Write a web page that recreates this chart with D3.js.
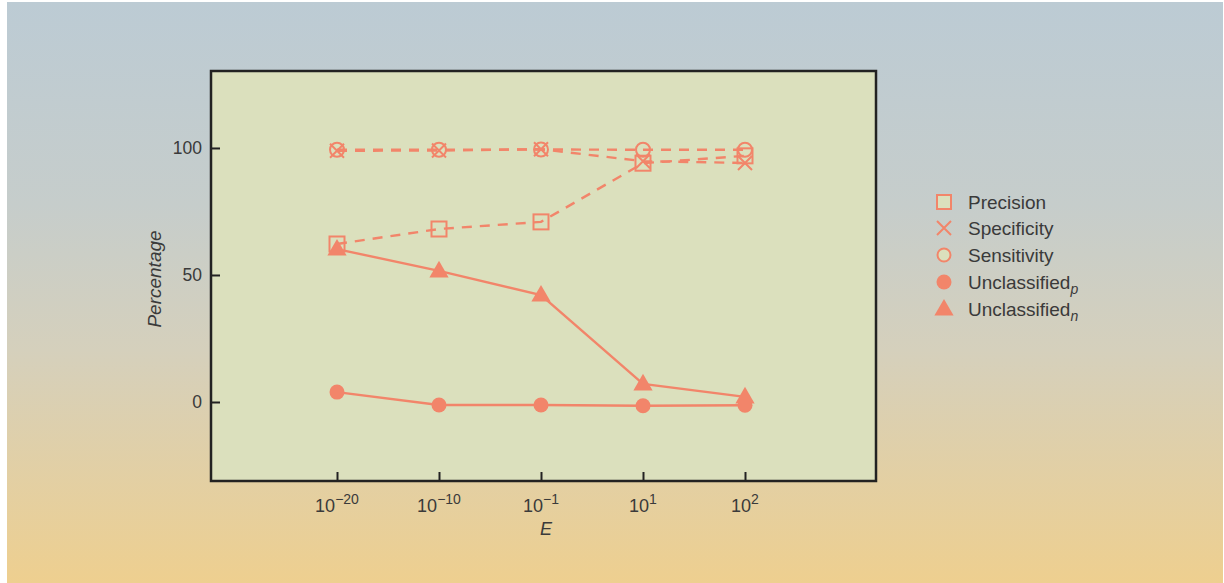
<!DOCTYPE html>
<html><head><meta charset="utf-8">
<script src="https://cdn.jsdelivr.net/npm/d3@7/dist/d3.min.js"></script>
<style>body{margin:0;background:#fff}svg{display:block}</style>
</head><body>
<svg id="c" width="1224" height="583"></svg>
<script>
const categories = ["1e-20","1e-10","1e-1","1e1","1e2"];
const xExponents = ["\u221220","\u221210","\u22121","1","2"];
const precision   = [62.2, 68.1, 70.9, 94.0, 96.9];
const specificity = [98.9, 99.0, 99.5, 94.8, 94.1];
const sensitivity = [99.3, 99.3, 99.4, 99.3, 99.3];
const unclassP    = [3.9, -1.2, -1.2, -1.5, -1.3];
const unclassN    = [60.2, 51.6, 42.1, 7.1, 2.0];
const yTicks = [0, 50, 100];
const seriesNames = ["Precision","Specificity","Sensitivity","Unclassified","Unclassified"];
const seriesSubs = ["","","","p","n"];

const C = "#f2856a", BG = "#dbe0bd", TXT = "#3a3a3a";
const svg = d3.select("#c");
const defs = svg.append("defs");
const g = defs.append("linearGradient").attr("id","bg").attr("x1",0).attr("y1",0).attr("x2",0).attr("y2",1);
[[0,"#bccbd4"],[0.35,"#c6cdcb"],[0.6,"#d5d0bc"],[1,"#eecf8f"]].forEach(s=>g.append("stop").attr("offset",s[0]).attr("stop-color",s[1]));
svg.append("rect").attr("x",7).attr("y",2).attr("width",1216).attr("height",581).attr("fill","url(#bg)");

const L=211, R=876, T=71, B=481;
const x = d3.scalePoint().domain(categories).range([337,745]);
const y = d3.scaleLinear().domain([-31.1,130.3]).range([B,T]);

svg.append("rect").attr("x",L).attr("y",T).attr("width",R-L).attr("height",B-T).attr("fill",BG);

const gy = svg.append("g").attr("transform",`translate(${L},0)`)
  .call(d3.axisRight(y).tickValues(yTicks).tickSize(9).tickFormat(""));
gy.select(".domain").remove();
gy.selectAll("line").attr("stroke","#222").attr("stroke-width",2);
const gx = svg.append("g").attr("transform",`translate(0,${B})`)
  .call(d3.axisTop(x).tickSize(9).tickFormat(""));
gx.select(".domain").remove();
gx.selectAll("line").attr("stroke","#222").attr("stroke-width",2);

svg.append("rect").attr("x",L).attr("y",T).attr("width",R-L).attr("height",B-T)
  .attr("fill","none").attr("stroke","#222").attr("stroke-width",2.5);

const font = "'Liberation Sans', Arial, sans-serif";
yTicks.forEach(v=>{
  svg.append("text").attr("x",202).attr("y",y(v)+6).attr("text-anchor","end")
    .attr("font-family",font).attr("font-size",17.5).attr("fill",TXT).text(v);
});
categories.forEach((c,i)=>{
  const t = svg.append("text").attr("x",x(c)).attr("y",512).attr("text-anchor","middle")
    .attr("font-family",font).attr("font-size",18).attr("fill",TXT);
  t.append("tspan").text("10");
  t.append("tspan").attr("dy",-8).attr("font-size",14).text(xExponents[i]);
});
svg.append("text").attr("x",546).attr("y",535).attr("text-anchor","middle")
  .attr("font-family",font).attr("font-size",18).attr("font-style","italic").attr("fill",TXT).text("E");
svg.append("text").attr("transform","translate(161,279) rotate(-90)").attr("text-anchor","middle")
  .attr("font-family",font).attr("font-size",19).attr("font-style","italic").attr("fill",TXT).text("Percentage");

const line = d3.line().x((d,i)=>x(categories[i])).y(d=>y(d));
const plotG = svg.append("g");
function drawLine(data, dashed){
  plotG.append("path").datum(data).attr("d",line).attr("fill","none").attr("stroke",C)
    .attr("stroke-width",2.4).attr("stroke-dasharray",dashed?"10,8":null);
}
drawLine(unclassP,false);
drawLine(unclassN,false);
drawLine(precision,true);
drawLine(specificity,true);
drawLine(sensitivity,true);

function marker(sel, type, cx, cy){
  if(type==="square"){
    sel.append("rect").attr("x",cx-7.5).attr("y",cy-7.5).attr("width",15).attr("height",15)
      .attr("fill","none").attr("stroke",C).attr("stroke-width",2);
  } else if(type==="cross"){
    sel.append("path").attr("d",`M${cx-7},${cy-7}L${cx+7},${cy+7}M${cx-7},${cy+7}L${cx+7},${cy-7}`)
      .attr("stroke",C).attr("stroke-width",2).attr("fill","none");
  } else if(type==="circle"){
    sel.append("circle").attr("cx",cx).attr("cy",cy).attr("r",7)
      .attr("fill","none").attr("stroke",C).attr("stroke-width",2);
  } else if(type==="dot"){
    sel.append("circle").attr("cx",cx).attr("cy",cy).attr("r",7.5).attr("fill",C);
  } else if(type==="tri"){
    sel.append("path").attr("d",d3.symbol(d3.symbolTriangle, 160)()).attr("transform",`translate(${cx},${cy+1})`).attr("fill",C);
  }
}
const types = ["square","cross","circle","dot","tri"];
[precision,specificity,sensitivity,unclassP,unclassN].forEach((s,k)=>{
  s.forEach((v,i)=>marker(plotG, types[k], x(categories[i]), y(v)));
});

const ly = [202,228,255,282,309];
types.forEach((t,k)=>{
  const lg = svg.append("g");
  if(t==="square") lg.append("rect").attr("x",937).attr("y",ly[k]-7).attr("width",14).attr("height",14).attr("fill",BG).attr("stroke",C).attr("stroke-width",2);
  else if(t==="circle") lg.append("circle").attr("cx",944).attr("cy",ly[k]).attr("r",6.5).attr("fill",BG).attr("stroke",C).attr("stroke-width",2);
  else marker(lg,t,944,ly[k]);
  const tx = lg.append("text").attr("x",968).attr("y",ly[k]+6.5).attr("font-family",font)
    .attr("font-size",19).attr("fill",TXT).text(seriesNames[k]);
  if(seriesSubs[k]) tx.append("tspan").attr("dy",5).attr("font-style","italic").attr("font-size",14).text(seriesSubs[k]);
});
</script>
</body></html>
